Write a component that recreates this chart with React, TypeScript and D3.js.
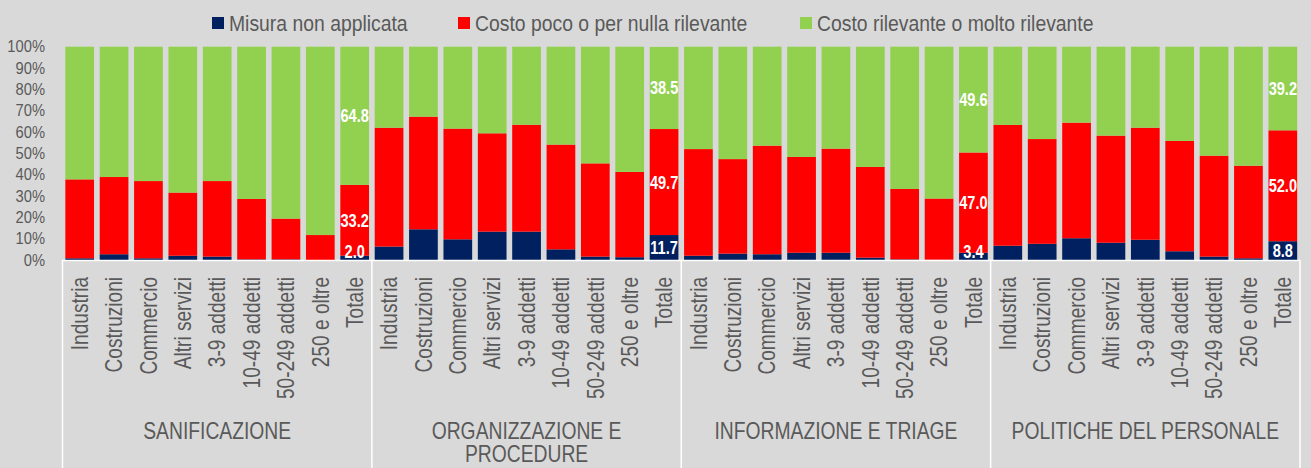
import { scaleBand, scaleLinear, stack } from "d3";

const categories = [
  "Industria",
  "Costruzioni",
  "Commercio",
  "Altri servizi",
  "3-9 addetti",
  "10-49 addetti",
  "50-249 addetti",
  "250 e oltre",
  "Totale",
];

const groupLines = [
  ["SANIFICAZIONE"],
  ["ORGANIZZAZIONE E", "PROCEDURE"],
  ["INFORMAZIONE E TRIAGE"],
  ["POLITICHE DEL PERSONALE"],
];

const seriesNames = [
  "Misura non applicata",
  "Costo poco o per nulla rilevante",
  "Costo rilevante o molto rilevante",
];

// values by group, 9 categories each
const nonApplicata = [
  0.8, 2.7, 0.8, 2.0, 1.6, 0.3, 0.3, 0.0, 2.0,
  6.3, 14.4, 9.7, 13.3, 13.3, 5.0, 1.6, 1.3, 11.7,
  2.0, 3.0, 2.7, 3.4, 3.4, 1.1, 0.3, 0.1, 3.4,
  6.7, 7.6, 10.2, 8.1, 9.5, 4.1, 1.6, 0.8, 8.8,
];
const pocoRilevante = [
  37.0, 36.2, 36.2, 29.6, 35.4, 28.3, 19.1, 11.7, 33.2,
  55.7, 52.8, 51.9, 46.1, 50.1, 49.1, 43.7, 40.0, 49.7,
  50.0, 44.3, 50.9, 44.9, 48.8, 42.5, 33.0, 28.7, 47.0,
  56.6, 49.1, 54.2, 50.2, 52.5, 51.7, 47.3, 43.4, 52.0,
];
const rilevante = [
  62.2, 61.1, 63.0, 68.4, 63.0, 71.4, 80.6, 88.3, 64.8,
  38.0, 32.8, 38.4, 40.6, 36.6, 45.9, 54.7, 58.7, 38.5,
  48.0, 52.7, 46.4, 51.7, 47.8, 56.4, 66.7, 71.2, 49.6,
  36.7, 43.3, 35.6, 41.7, 38.0, 44.2, 51.1, 55.8, 39.2,
];

const yTicks = [0, 10, 20, 30, 40, 50, 60, 70, 80, 90, 100];

const colors = ["#002060", "#ff0000", "#92d050"];
const legendX = [212, 458, 800];
const width = 1311;
const height = 468;
const plot = { left: 62.5, right: 1300, top: 46.7, bottom: 260 };
// no narrow face installed, so regular Liberation Sans squeezed horizontally
const font = "'Arial Narrow', 'Liberation Sans', Arial, sans-serif";
const textColor = "#595959";

export default function App() {
  const rows = nonApplicata.map((v, i) => ({
    key: i,
    a: v,
    b: pocoRilevante[i],
    c: rilevante[i],
  }));
  const layers = stack().keys(["a", "b", "c"])(rows as any);

  const xScale = scaleBand()
    .domain(rows.map((d) => String(d.key)))
    .range([plot.left, plot.right])
    .paddingInner(0.165)
    .paddingOuter(0.0825);
  const yScale = scaleLinear().domain([0, 100]).range([plot.bottom, plot.top]);

  const nCat = categories.length;
  const groupWidth = (plot.right - plot.left) / groupLines.length;

  return (
    <svg
      width={width}
      height={height}
      style={{ position: "absolute", left: 0, top: 0, display: "block" }}
      fontFamily={font}
    >
      <rect x={0} y={0} width={width} height={height} fill="#d9d9d9" />

      {/* legend */}
      {seriesNames.map((name, i) => (
        <g key={name}>
          <rect x={legendX[i]} y={17} width={12} height={12} fill={colors[i]} />
          <text
            transform={`translate(${legendX[i] + 17},31) scale(0.88,1)`}
            fontSize={22}
            fill={textColor}
          >
            {name}
          </text>
        </g>
      ))}

      {/* y axis labels */}
      {yTicks.map((t) => (
        <text
          key={t}
          transform={`translate(45,${yScale(t)}) scale(0.92,1)`}
          dy="0.36em"
          textAnchor="end"
          fontSize={16}
          fill={textColor}
        >
          {t}%
        </text>
      ))}

      {/* bars */}
      {layers.map((layer, li) =>
        layer.map((d, i) => (
          <rect
            key={li + "-" + i}
            x={xScale(String(i))}
            y={yScale(d[1])}
            width={xScale.bandwidth()}
            height={Math.max(0, yScale(d[0]) - yScale(d[1]))}
            fill={colors[li]}
          />
        ))
      )}

      {/* value labels on Totale bars */}
      {layers.map((layer, li) =>
        layer
          .filter((d, i) => i % nCat === nCat - 1)
          .map((d: any) => {
            const i = d.data.key;
            const v = [nonApplicata, pocoRilevante, rilevante][li][i];
            const cx = xScale(String(i))! + xScale.bandwidth() / 2;
            const cy = Math.min((yScale(d[0]) + yScale(d[1])) / 2, 252);
            return (
              <text
                key={"l" + li + "-" + i}
                transform={`translate(${cx},${cy}) scale(0.81,1)`}
                dy="0.36em"
                textAnchor="middle"
                fontSize={18}
                fontWeight="bold"
                fill="#ffffff"
              >
                {v.toFixed(1)}
              </text>
            );
          })
      )}

      {/* category axis */}
      <line
        x1={plot.left}
        x2={plot.right}
        y1={plot.bottom + 0.5}
        y2={plot.bottom + 0.5}
        stroke="#ffffff"
        strokeWidth={1.5}
      />
      {groupLines.map((_, g) => (
        <line
          key={"sep" + g}
          x1={plot.left + g * groupWidth}
          x2={plot.left + g * groupWidth}
          y1={plot.bottom}
          y2={height}
          stroke="#ffffff"
          strokeWidth={1.5}
        />
      ))}
      <line
        x1={plot.right}
        x2={plot.right}
        y1={plot.bottom}
        y2={height}
        stroke="#ffffff"
        strokeWidth={1.5}
      />

      {rows.map((d, i) => {
        const cx = xScale(String(i))! + xScale.bandwidth() / 2;
        return (
          <text
            key={"c" + i}
            transform={`translate(${cx},277) rotate(-90) scale(0.83,1)`}
            dy="0.36em"
            textAnchor="end"
            fontSize={23}
            fill={textColor}
          >
            {categories[i % nCat]}
          </text>
        );
      })}

      {groupLines.map((lines, g) => (
        <text
          key={"g" + g}
          transform={`translate(${plot.left + (g + 0.5) * groupWidth},439) scale(0.84,1)`}
          textAnchor="middle"
          fontSize={23}
          fill={textColor}
        >
          {lines.map((ln, j) => (
            <tspan key={j} x={0} dy={j === 0 ? 0 : 23}>
              {ln}
            </tspan>
          ))}
        </text>
      ))}
    </svg>
  );
}
